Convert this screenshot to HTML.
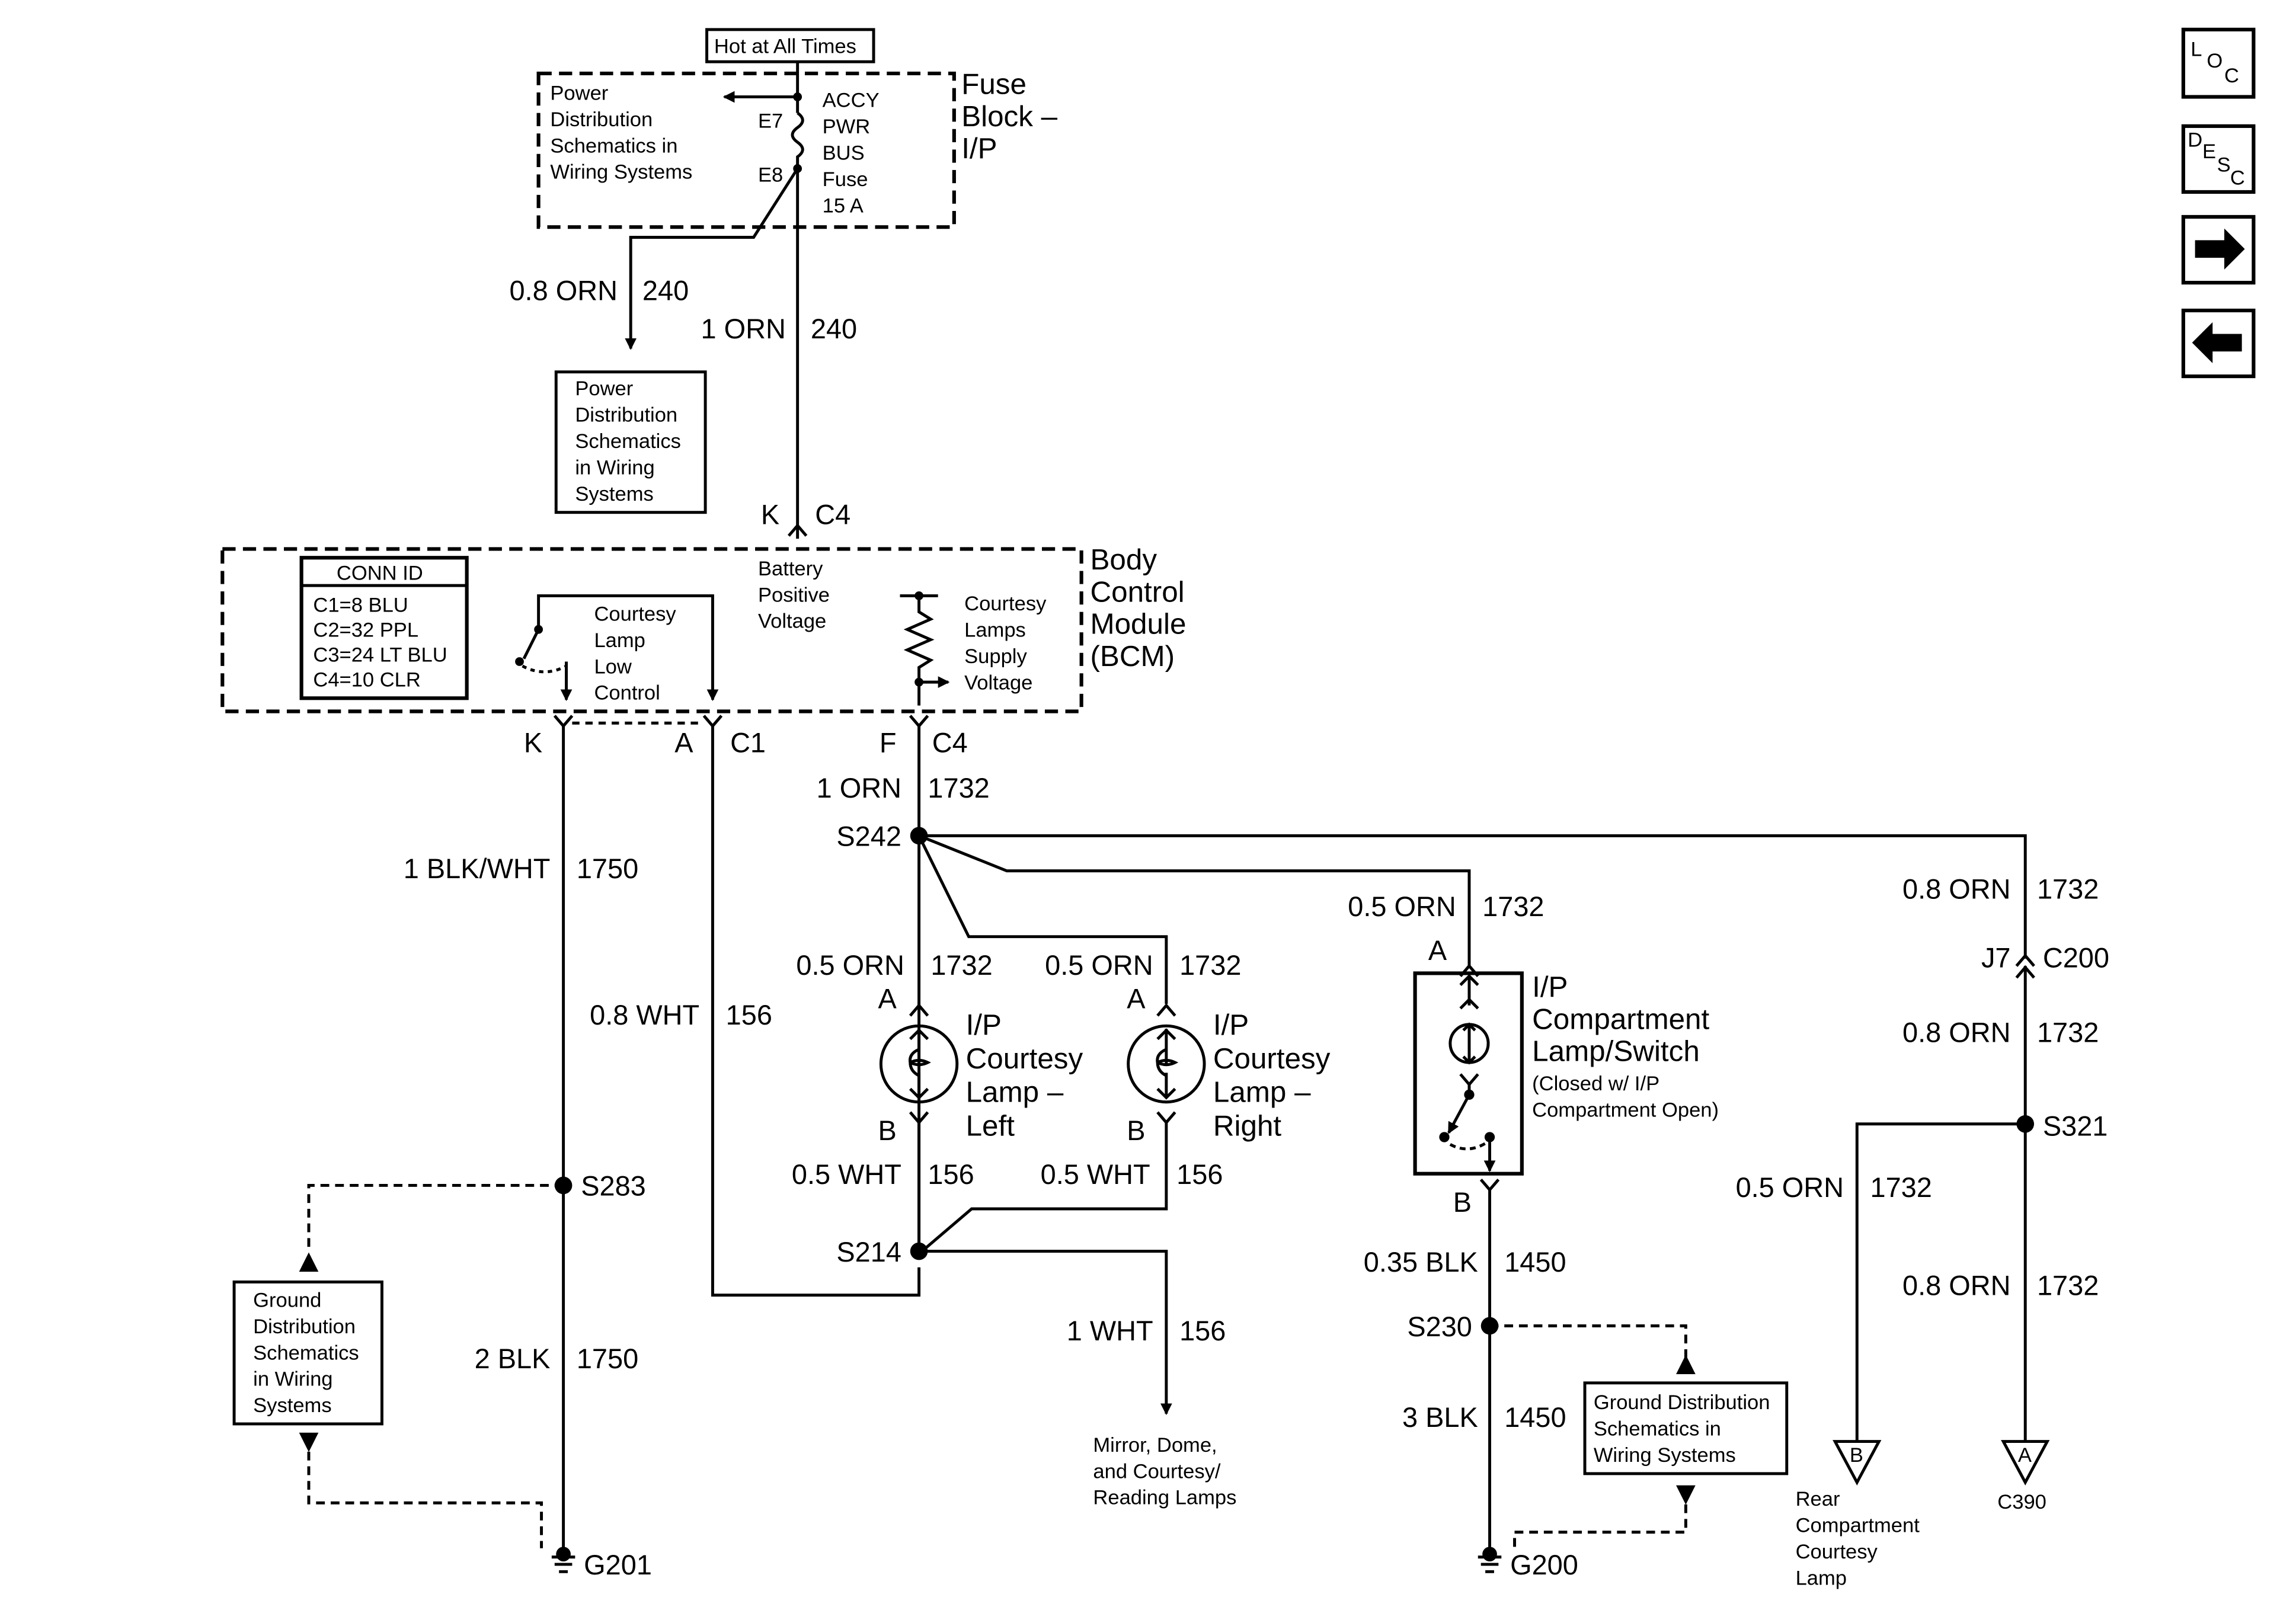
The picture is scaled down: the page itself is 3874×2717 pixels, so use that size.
<!DOCTYPE html>
<html><head><meta charset="utf-8"><style>
html,body{margin:0;padding:0;background:#fff}
svg{display:block}
text{font-family:"Liberation Sans",Arial,sans-serif;fill:#000}
.b{font-size:19px}.s{font-size:14px}.m{font-size:20px}
</style></head><body>
<svg width="3874" height="2717" viewBox="0 0 1569 1100" xmlns="http://www.w3.org/2000/svg">
<defs>
<marker id="ah" markerWidth="8" markerHeight="8" refX="7" refY="4" orient="auto" markerUnits="userSpaceOnUse"><path d="M0,0 L8,4 L0,8 z" fill="#000"/></marker>
</defs>
<rect width="1569" height="1100" fill="#fff"/>
<g stroke="#000" stroke-width="2" fill="none">
<rect x="483" y="20" width="114" height="22"/>
<rect x="368" y="50" width="284" height="105" stroke-dasharray="9,5" stroke-width="2.5"/>
<line x1="545" y1="42" x2="545" y2="77"/>
<path d="M545,77 q7,5 0,10 q-7,5 0,10 q7,5 0,10 l0,8"/>
<line x1="545" y1="115" x2="545" y2="360"/>
<line x1="545" y1="66" x2="495" y2="66" marker-end="url(#ah)"/>
<polyline points="545,115 515,162 431,162 431,238" marker-end="url(#ah)" fill="none"/>
<rect x="380" y="254" width="102" height="96"/>
<path d="M539,366 l6,-7 l6,7"/>
<line x1="545" y1="359" x2="545" y2="368"/>
<rect x="152" y="375" width="587" height="111" stroke-dasharray="9,5" stroke-width="2.5"/>
<rect x="206" y="381" width="113" height="96" stroke-width="2.5"/>
<line x1="206" y1="400" x2="319" y2="400"/>
<polyline points="368,430 368,407 487,407 487,478" marker-end="url(#ah)"/>
<line x1="368" y1="430" x2="358" y2="450"/>
<path d="M357,455 q15,8 30,0" stroke-dasharray="3,3"/>
<line x1="387" y1="452" x2="387" y2="478" marker-end="url(#ah)"/>
<line x1="615" y1="407" x2="641" y2="407"/>
<polyline points="628,407 628,418 636,423 620,430 636,437 620,444 636,451 628,456 628,482"/>
<line x1="628" y1="466" x2="648" y2="466" marker-end="url(#ah)"/>
<path d="M379,489 l6,7 l6,-7"/><path d="M481,489 l6,7 l6,-7"/><path d="M622,489 l6,7 l6,-7"/>
<line x1="391" y1="494" x2="481" y2="494" stroke-dasharray="5,4"/>
<line x1="385" y1="496" x2="385" y2="1062"/>
<polyline points="487,496 487,885 628,885 628,866"/>
<line x1="628" y1="496" x2="628" y2="855"/>
<polyline points="628,571 1384,571 1384,655"/>
<polyline points="628,571 688,595 1004,595 1004,660"/>
<polyline points="628,571 662,640 797,640 797,686"/>
<path d="M622,694 l6,-7 l6,7 M628,687 v-2"/><path d="M791,694 l6,-7 l6,7"/>
<circle cx="628" cy="727" r="26"/><circle cx="797" cy="727" r="26"/>
<path d="M628,703 v24 M622,710 l6,-6 l6,6 M622,744 l6,6 l6,-6 M628,733 v17 M628,717 q-7,3 -6,9 q0,6 6,9 M622,726 q6,-3 12,0 q-6,3 -12,0"/>
<path d="M797,703 v24 M791,710 l6,-6 l6,6 M791,744 l6,6 l6,-6 M797,733 v17 M797,717 q-7,3 -6,9 q0,6 6,9 M791,726 q6,-3 12,0 q-6,3 -12,0"/>
<path d="M622,760 l6,7 l6,-7"/><path d="M791,760 l6,7 l6,-7"/>
<line x1="628" y1="767" x2="628" y2="855"/>
<polyline points="797,767 797,826 664,826 630,855"/>
<polyline points="628,855 797,855 797,966" marker-end="url(#ah)"/>
<path d="M998,667 l6,-7 l6,7"/>
<rect x="967" y="665" width="73" height="137" stroke-width="2.5"/>
<path d="M1004,667 v20 M998,673 l6,-6 l6,6 M998,689 l6,-6 l6,6"/>
<circle cx="1004" cy="713" r="13"/>
<path d="M1004,701 v24 M1000,704 l4,-4 l4,4 M1000,722 l4,4 l4,-4"/>
<path d="M998,734 l6,7 l6,-7 M1004,741 v7"/>
<line x1="1004" y1="748" x2="990" y2="774" marker-end="url(#ah)"/>
<path d="M991,782 q13,7 26,-2" stroke-dasharray="4,3"/>
<line x1="1018" y1="777" x2="1018" y2="800" marker-end="url(#ah)"/>
<path d="M1012,806 l6,7 l6,-7"/>
<line x1="1018" y1="813" x2="1018" y2="1062"/>
<polyline points="1018,906 1152,906 1152,930" stroke-dasharray="6,4"/>
<path d="M1147,938 l5,-10 l5,10z" fill="#000"/>
<rect x="1083" y="945" width="138" height="62"/>
<path d="M1147,1016 l5,10 l5,-10z" fill="#000"/>
<polyline points="1152,1028 1152,1047 1035,1047 1035,1058" stroke-dasharray="6,4"/>
<path d="M1378,668 l6,-7 l6,7 M1378,660 l6,-7 l6,7"/>
<line x1="1384" y1="660" x2="1384" y2="985"/>
<polyline points="1384,768 1269,768 1269,985"/>
<path d="M1254,985 h30 l-15,28z"/>
<path d="M1369,985 h30 l-15,28z"/>
<polyline points="385,810 211,810 211,856" stroke-dasharray="6,4"/>
<path d="M206,868 l5,-10 l5,10z" fill="#000"/>
<rect x="160" y="876" width="101" height="97"/>
<path d="M206,980 l5,10 l5,-10z" fill="#000"/>
<polyline points="211,992 211,1027 370,1027 370,1058" stroke-dasharray="6,4"/>
<path d="M377,1064 h16 M379,1069 h12 M382,1074 h6"/>
<path d="M1010,1064 h16 M1012,1069 h12 M1015,1074 h6"/>
<rect x="1492" y="20" width="48" height="46" stroke-width="2.5"/>
<rect x="1492" y="86" width="48" height="45" stroke-width="2.5"/>
<rect x="1492" y="148" width="48" height="45" stroke-width="2.5"/>
<rect x="1492" y="212" width="48" height="45" stroke-width="2.5"/>
</g>
<g fill="#000">
<circle cx="545" cy="66" r="3"/><circle cx="545" cy="115" r="3"/>
<circle cx="628" cy="407" r="3"/><circle cx="628" cy="466" r="3"/>
<circle cx="355" cy="452" r="3"/><circle cx="368" cy="430" r="3"/>
<circle cx="1004" cy="748" r="3.5"/><circle cx="987" cy="777" r="3.5"/><circle cx="1018" cy="777" r="3.5"/>
<circle cx="628" cy="571" r="6"/><circle cx="628" cy="855" r="6"/>
<circle cx="385" cy="810" r="6"/><circle cx="1018" cy="906" r="6"/><circle cx="1384" cy="768" r="6"/>
<circle cx="385" cy="1062" r="5"/><circle cx="1018" cy="1062" r="5"/>
<path d="M1500,164 h20 v-8 l14,14 l-14,14 v-8 h-20z"/>
<path d="M1532,228 h-20 v-8 l-14,14 l14,14 v-8 h20z"/>
</g>
<text class="s" x="488" y="36">Hot at All Times</text>
<text class="s" x="376" y="68">Power</text><text class="s" x="376" y="86">Distribution</text><text class="s" x="376" y="104">Schematics in</text><text class="s" x="376" y="122">Wiring Systems</text>
<text class="s" x="518" y="87">E7</text><text class="s" x="518" y="124">E8</text>
<text class="s" x="562" y="73">ACCY</text><text class="s" x="562" y="91">PWR</text><text class="s" x="562" y="109">BUS</text><text class="s" x="562" y="127">Fuse</text><text class="s" x="562" y="145">15 A</text>
<text class="m" x="657" y="64">Fuse</text><text class="m" x="657" y="86">Block –</text><text class="m" x="657" y="108">I/P</text>
<text class="b" x="422" y="205" text-anchor="end">0.8 ORN</text><text class="b" x="439" y="205">240</text>
<text class="b" x="537" y="231" text-anchor="end">1 ORN</text><text class="b" x="554" y="231">240</text>
<text class="s" x="393" y="270">Power</text><text class="s" x="393" y="288">Distribution</text><text class="s" x="393" y="306">Schematics</text><text class="s" x="393" y="324">in Wiring</text><text class="s" x="393" y="342">Systems</text>
<text class="b" x="520" y="358">K</text><text class="b" x="557" y="358">C4</text>
<text class="m" x="745" y="389">Body</text><text class="m" x="745" y="411">Control</text><text class="m" x="745" y="433">Module</text><text class="m" x="745" y="455">(BCM)</text>
<text class="s" x="230" y="396">CONN ID</text>
<text class="s" x="214" y="418">C1=8 BLU</text><text class="s" x="214" y="435">C2=32 PPL</text><text class="s" x="214" y="452">C3=24 LT BLU</text><text class="s" x="214" y="469">C4=10 CLR</text>
<text class="s" x="406" y="424">Courtesy</text><text class="s" x="406" y="442">Lamp</text><text class="s" x="406" y="460">Low</text><text class="s" x="406" y="478">Control</text>
<text class="s" x="518" y="393">Battery</text><text class="s" x="518" y="411">Positive</text><text class="s" x="518" y="429">Voltage</text>
<text class="s" x="659" y="417">Courtesy</text><text class="s" x="659" y="435">Lamps</text><text class="s" x="659" y="453">Supply</text><text class="s" x="659" y="471">Voltage</text>
<text class="b" x="358" y="514">K</text><text class="b" x="461" y="514">A</text><text class="b" x="499" y="514">C1</text><text class="b" x="601" y="514">F</text><text class="b" x="637" y="514">C4</text>
<text class="b" x="616" y="545" text-anchor="end">1 ORN</text><text class="b" x="634" y="545">1732</text>
<text class="b" x="616" y="578" text-anchor="end">S242</text>
<text class="b" x="376" y="600" text-anchor="end">1 BLK/WHT</text><text class="b" x="394" y="600">1750</text>
<text class="b" x="995" y="626" text-anchor="end">0.5 ORN</text><text class="b" x="1013" y="626">1732</text>
<text class="b" x="1374" y="614" text-anchor="end">0.8 ORN</text><text class="b" x="1392" y="614">1732</text>
<text class="b" x="618" y="666" text-anchor="end">0.5 ORN</text><text class="b" x="636" y="666">1732</text>
<text class="b" x="788" y="666" text-anchor="end">0.5 ORN</text><text class="b" x="806" y="666">1732</text>
<text class="b" x="976" y="656">A</text>
<text class="b" x="1374" y="661" text-anchor="end">J7</text><text class="b" x="1396" y="661">C200</text>
<text class="b" x="600" y="689">A</text><text class="b" x="770" y="689">A</text>
<text class="b" x="478" y="700" text-anchor="end">0.8 WHT</text><text class="b" x="496" y="700">156</text>
<text class="m" x="660" y="707">I/P</text><text class="m" x="660" y="730">Courtesy</text><text class="m" x="660" y="753">Lamp –</text><text class="m" x="660" y="776">Left</text>
<text class="m" x="829" y="707">I/P</text><text class="m" x="829" y="730">Courtesy</text><text class="m" x="829" y="753">Lamp –</text><text class="m" x="829" y="776">Right</text>
<text class="m" x="1047" y="681">I/P</text><text class="m" x="1047" y="703">Compartment</text><text class="m" x="1047" y="725">Lamp/Switch</text>
<text class="s" x="1047" y="745">(Closed w/ I/P</text><text class="s" x="1047" y="763">Compartment Open)</text>
<text class="b" x="1374" y="712" text-anchor="end">0.8 ORN</text><text class="b" x="1392" y="712">1732</text>
<text class="b" x="1396" y="776">S321</text>
<text class="b" x="600" y="779">B</text><text class="b" x="770" y="779">B</text>
<text class="b" x="616" y="809" text-anchor="end">0.5 WHT</text><text class="b" x="634" y="809">156</text>
<text class="b" x="786" y="809" text-anchor="end">0.5 WHT</text><text class="b" x="804" y="809">156</text>
<text class="b" x="397" y="817">S283</text>
<text class="b" x="1260" y="818" text-anchor="end">0.5 ORN</text><text class="b" x="1278" y="818">1732</text>
<text class="b" x="993" y="828">B</text>
<text class="b" x="616" y="862" text-anchor="end">S214</text>
<text class="b" x="1010" y="869" text-anchor="end">0.35 BLK</text><text class="b" x="1028" y="869">1450</text>
<text class="b" x="1374" y="885" text-anchor="end">0.8 ORN</text><text class="b" x="1392" y="885">1732</text>
<text class="s" x="173" y="893">Ground</text><text class="s" x="173" y="911">Distribution</text><text class="s" x="173" y="929">Schematics</text><text class="s" x="173" y="947">in Wiring</text><text class="s" x="173" y="965">Systems</text>
<text class="b" x="1006" y="913" text-anchor="end">S230</text>
<text class="b" x="788" y="916" text-anchor="end">1 WHT</text><text class="b" x="806" y="916">156</text>
<text class="b" x="376" y="935" text-anchor="end">2 BLK</text><text class="b" x="394" y="935">1750</text>
<text class="s" x="1089" y="963">Ground Distribution</text><text class="s" x="1089" y="981">Schematics in</text><text class="s" x="1089" y="999">Wiring Systems</text>
<text class="b" x="1010" y="975" text-anchor="end">3 BLK</text><text class="b" x="1028" y="975">1450</text>
<text class="s" x="747" y="992">Mirror, Dome,</text><text class="s" x="747" y="1010">and Courtesy/</text><text class="s" x="747" y="1028">Reading Lamps</text>
<text class="s" x="1264" y="999">B</text><text class="s" x="1379" y="999">A</text>
<text class="s" x="1227" y="1029">Rear</text><text class="s" x="1227" y="1047">Compartment</text><text class="s" x="1227" y="1065">Courtesy</text><text class="s" x="1227" y="1083">Lamp</text>
<text class="s" x="1365" y="1031">C390</text>
<text class="b" x="399" y="1076">G201</text><text class="b" x="1032" y="1076">G200</text>
<text class="s" x="1497" y="38">L</text><text class="s" x="1508" y="46">O</text><text class="s" x="1520" y="56">C</text>
<text class="s" x="1495" y="100">D</text><text class="s" x="1505" y="108">E</text><text class="s" x="1515" y="117">S</text><text class="s" x="1524" y="126">C</text>
</svg>
</body></html>
